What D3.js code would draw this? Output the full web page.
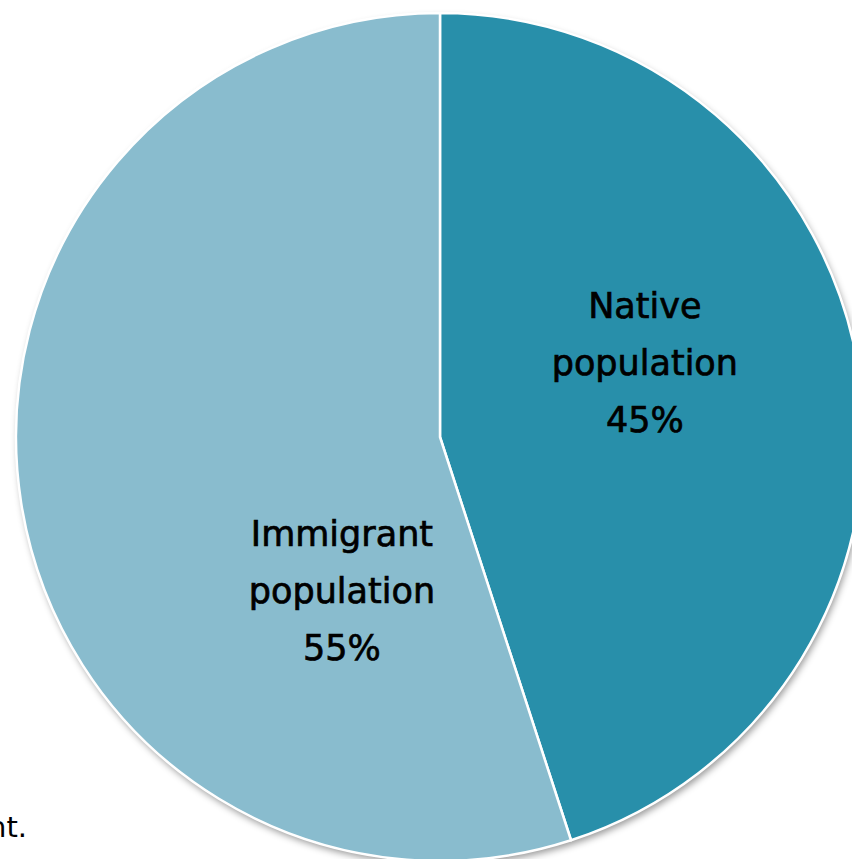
<!DOCTYPE html>
<html>
<head>
<meta charset="utf-8">
<script src="https://cdn.jsdelivr.net/npm/d3@7"></script>
<style>
  html, body { margin: 0; padding: 0; background: #fff; overflow: hidden; }
  svg { display: block; }
</style>
</head>
<body>
<svg id="canvas" width="852" height="859"></svg>
<script>
// chart data
let categories = ['Native population', 'Immigrant population']
let shares = [45, 55]
let labelLines = [['Native', 'population', '45%'], ['Immigrant', 'population', '55%']]
let colors = ['#288faa', '#89bcce']

let width = 852
let height = 859
let cx = 440
let cy = 437
let radius = 424

let canvas = d3.select('#canvas')

let defs = canvas.append('defs')
let shadow = defs.append('filter')
  .attr('id', 'shadow')
  .attr('x', '-10%').attr('y', '-10%')
  .attr('width', '120%').attr('height', '120%')
shadow.append('feDropShadow')
  .attr('dx', 2).attr('dy', 4)
  .attr('stdDeviation', 3.5)
  .attr('flood-color', '#000')
  .attr('flood-opacity', 0.4)

let pie = d3.pie().sort(null).value((d) => d)
let arcs = pie(shares)
let arc = d3.arc().innerRadius(0).outerRadius(radius)

let g = canvas.append('g')
  .attr('transform', `translate(${cx},${cy})`)

// outer disc carries the shadow
g.append('circle')
  .attr('r', radius)
  .attr('fill', '#fff')
  .attr('filter', 'url(#shadow)')

g.selectAll('path')
  .data(arcs)
  .enter()
  .append('path')
  .attr('d', arc)
  .attr('fill', (d, i) => colors[i])
  .attr('stroke', '#fff')
  .attr('stroke-width', 2.5)
  .attr('stroke-linejoin', 'round')

// label placement (distance and angle from the centre)
let labelPolar = [[218, 70], [182, 212.6]]
let lineGap = 57

g.selectAll('text.label')
  .data(arcs)
  .enter()
  .append('text')
  .attr('class', 'label')
  .attr('text-anchor', 'middle')
  .attr('font-family', '"DejaVu Sans", Verdana, sans-serif')
  .attr('font-size', 35)
  .attr('fill', '#000')
  .attr('stroke', '#000')
  .attr('stroke-width', 0.7)
  .each(function (d, i) {
    let [dist, deg] = labelPolar[i]
    let a = deg * Math.PI / 180
    let x = dist * Math.sin(a)
    let y = -dist * Math.cos(a)
    let lines = labelLines[i]
    let top = y - (lines.length - 1) * lineGap / 2
    d3.select(this).selectAll('tspan')
      .data(lines)
      .enter()
      .append('tspan')
      .attr('x', x)
      .attr('y', (t, j) => top + j * lineGap)
      .attr('dy', '0.35em')
      .text((t) => t)
  })

// clipped fragment of surrounding text at the bottom left
canvas.append('text')
  .attr('x', 27)
  .attr('y', 837)
  .attr('text-anchor', 'end')
  .attr('font-family', '"DejaVu Sans", Verdana, sans-serif')
  .attr('font-size', 29)
  .attr('fill', '#000')
  .text('nt.')
</script>
</body>
</html>
